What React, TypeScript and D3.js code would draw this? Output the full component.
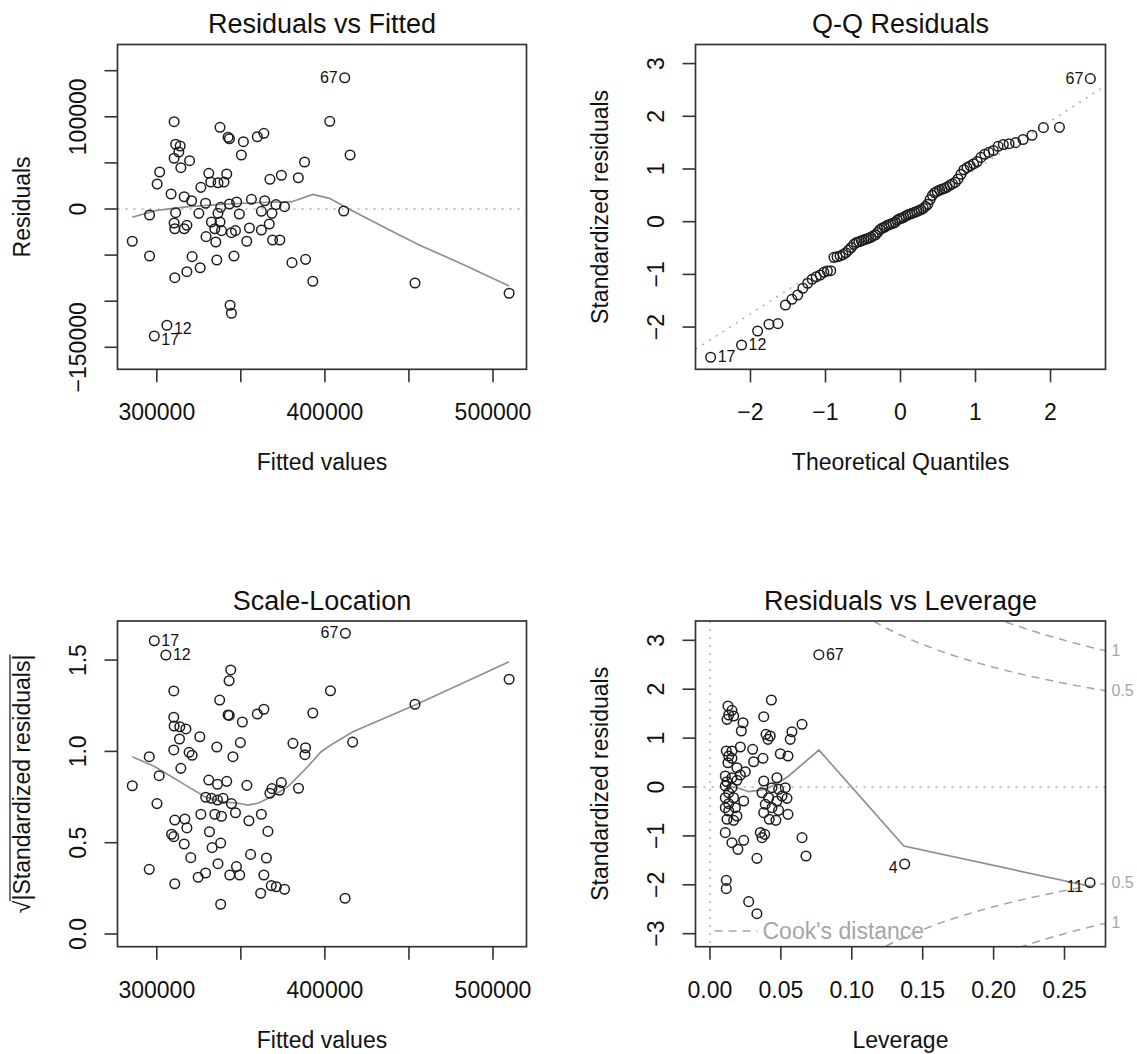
import React, { useEffect } from 'react';
import * as d3 from 'd3';

// ---- Residuals vs Fitted ----
const rvfFitted = [
  285400, 295700, 295700, 301700, 300200, 310300, 311200, 313900, 313100, 310300,
  319500, 314300, 308500, 316300, 320700, 311200, 310300, 310700, 317900, 316300,
  321000, 325800, 317900, 310700, 325000, 329000, 326200, 330900, 332100, 336400,
  340000, 341600, 337600, 342400, 343200, 351500, 350300, 359800, 363700, 367300,
  374100, 338000, 343200, 347500, 356300, 364200, 370900, 376000, 336400, 332500,
  337600, 334500, 338500, 329300, 335100, 344400, 346800, 349100, 355100, 362200,
  362200, 366900, 368500, 368900, 373200, 353500, 335700, 345900, 380400, 343600,
  344400, 306000, 298500, 411800, 402900, 415000, 387900, 384200, 411200, 388500,
  392800, 453600, 509600,
];
const rvfResid = [
  -35000, -6500, -51000, 40100, 27100, 94700, 70200, 68300, 61800, 55000,
  52400, 44800, 16300, 13300, 9000, -4000, -15200, -21400, -17700, -21400,
  -51700, -63700, -68000, -74500, -4700, 6200, 23500, 38700, 29300, 28500,
  29300, 38000, 88600, 77800, 76200, 73000, 58600, 78400, 82100, 32200,
  36600, 1800, 5400, 7600, 10500, 9000, 4700, 2500, -4700, -14100,
  -14100, -21400, -23500, -30000, -35800, -25700, -23500, -5400, -20600, -2500,
  -22800, -16300, -4700, -33600, -33600, -35000, -55300, -51000, -58200, -104400,
  -113100, -126100, -137700, 142400, 95100, 58600, 51000, 33900, -2200, -54600,
  -78400, -80300, -91400,
];
const rvfSmooth = [
  [285400, -9000], [298900, -1800], [318600, 2500], [338500, 5100], [358200, 6800],
  [380400, 7900], [392800, 15900], [402700, 11600], [416600, -2200], [436400, -20900],
  [456100, -39000], [482900, -60700], [509600, -83500],
];
const rvfIds = [
  { i: 73, label: '67', side: 'left' },
  { i: 71, label: '12', side: 'right' },
  { i: 72, label: '17', side: 'right' },
];

// ---- Q-Q Residuals (sorted standardized residuals) ----
const qqSorted = [
  -2.573, -2.34, -2.074, -1.947, -1.935, -1.581, -1.473, -1.391, -1.264, -1.169,
  -1.093, -1.044, -1.011, -0.96, -0.935, -0.93, -0.677, -0.665, -0.65, -0.625,
  -0.59, -0.54, -0.49, -0.43, -0.395, -0.38, -0.362, -0.345, -0.33, -0.315,
  -0.295, -0.27, -0.25, -0.2, -0.15, -0.122, -0.105, -0.08, -0.06, -0.045,
  -0.03, -0.01, 0.03, 0.055, 0.065, 0.085, 0.11, 0.13, 0.146, 0.16,
  0.178, 0.19, 0.21, 0.23, 0.253, 0.29, 0.33, 0.42, 0.5, 0.55,
  0.575, 0.598, 0.615, 0.635, 0.655, 0.69, 0.718, 0.745, 0.81, 0.9,
  0.985, 1.025, 1.06, 1.1, 1.14, 1.22, 1.28, 1.315, 1.35, 1.43,
  1.465, 1.48, 1.5, 1.56, 1.64, 1.784, 1.79, 2.714,
];
const qqLine = [[-2.733, -2.42], [2.733, 2.58]];
const qqIds = [
  { i: 0, label: '17', side: 'right' },
  { i: 1, label: '12', side: 'right' },
  { i: 87, label: '67', side: 'left' },
];

// ---- Scale-Location ----
const slFitted = [
  298500, 305400, 344000, 343000, 310100, 337400, 342400, 343100, 350900, 359800,
  363700, 392800, 403300, 310100, 310300, 313700, 317300, 313500, 325600, 335700,
  349700, 345300, 310100, 319200, 321000, 295500, 314300, 301400, 285400, 330900,
  336100, 341600, 353600, 300100, 329100, 332500, 336100, 339400, 344400, 346800,
  326200, 334500, 338500, 354800, 362200, 366100, 368500, 367300, 372900, 374100,
  384300, 381000, 388500, 388100, 310700, 316700, 317900, 308800, 310100, 316300,
  331300, 338000, 332900, 320200, 336400, 347400, 343400, 349300, 355800, 365200,
  295500, 310700, 324600, 329000, 363700, 368100, 371100, 376000, 361800, 338000,
  412200, 416500, 453600, 509600, 412000,
];
const slSqrtStd = [
  1.606, 1.528, 1.446, 1.387, 1.331, 1.281, 1.199, 1.197, 1.161, 1.205,
  1.231, 1.21, 1.332, 1.187, 1.139, 1.135, 1.123, 1.068, 1.08, 1.024,
  1.048, 0.971, 1.008, 0.995, 0.979, 0.971, 0.907, 0.867, 0.812, 0.843,
  0.82, 0.836, 0.814, 0.714, 0.749, 0.743, 0.734, 0.743, 0.714, 0.664,
  0.656, 0.656, 0.645, 0.62, 0.656, 0.562, 0.796, 0.771, 0.787, 0.829,
  0.798, 1.044, 1.02, 0.982, 0.624, 0.63, 0.581, 0.546, 0.533, 0.493,
  0.56, 0.498, 0.473, 0.418, 0.385, 0.369, 0.323, 0.323, 0.436, 0.416,
  0.354, 0.275, 0.311, 0.334, 0.323, 0.265, 0.259, 0.245, 0.223, 0.163,
  1.647, 1.051, 1.258, 1.395, 0.196,
];
const slSmooth = [
  [285400, 0.971], [298900, 0.916], [308800, 0.861], [318600, 0.807], [328500, 0.752],
  [338500, 0.725], [348300, 0.716], [354200, 0.706], [360200, 0.716], [368100, 0.752],
  [378000, 0.807], [387900, 0.898], [397800, 0.998], [404500, 1.041], [416700, 1.108],
  [455000, 1.26], [509600, 1.491],
];
const slIds = [
  { i: 0, label: '17', side: 'right' },
  { i: 1, label: '12', side: 'right' },
  { i: 80, label: '67', side: 'left' },
];

// ---- Residuals vs Leverage ----
const levHat = [
  0.0127, 0.0155, 0.0132, 0.012, 0.0167, 0.0433, 0.0379, 0.0233, 0.0221, 0.0395,
  0.0425, 0.0409, 0.0649, 0.0578, 0.0566, 0.0214, 0.0301, 0.0374, 0.0308, 0.0496,
  0.055, 0.0115, 0.0155, 0.0132, 0.0155, 0.0127, 0.019, 0.0249, 0.0214, 0.0108,
  0.0155, 0.019, 0.012, 0.0108, 0.0155, 0.0132, 0.0108, 0.0167, 0.0238, 0.0132,
  0.0108, 0.0179, 0.0132, 0.019, 0.012, 0.0167, 0.0108, 0.0155, 0.0197, 0.0238,
  0.0331, 0.0379, 0.0472, 0.0484, 0.0531, 0.0367, 0.0437, 0.0414, 0.0472, 0.0508,
  0.0543, 0.039, 0.0437, 0.0484, 0.0379, 0.055, 0.0418, 0.0465, 0.0355, 0.0386,
  0.0367, 0.0649, 0.0677, 0.0115, 0.0115, 0.0273, 0.0331, 0.0768, 0.1373, 0.268,
];
const levStd = [
  1.656, 1.568, 1.472, 1.384, 1.452, 1.779, 1.438, 1.315, 1.145, 1.077,
  1.043, 0.975, 1.282, 1.131, 0.975, 0.818, 0.771, 0.587, 0.517, 0.681,
  0.634, 0.736, 0.736, 0.634, 0.587, 0.497, 0.395, 0.313, 0.245, 0.225,
  0.19, 0.137, 0.108, 0.02, -0.014, -0.117, -0.219, -0.219, -0.286, -0.341,
  -0.423, -0.423, -0.491, -0.593, -0.661, -0.682, -0.934, -1.139, -1.275, -1.091,
  -1.459, 0.123, 0.19, -0.048, -0.014, -0.117, -0.014, -0.219, -0.286, -0.184,
  -0.232, -0.354, -0.423, -0.477, -0.525, -0.559, -0.661, -0.682, -0.934, -0.968,
  -1.036, -1.036, -1.411, -1.909, -2.079, -2.345, -2.591, 2.706, -1.575, -1.957,
];
const levSmooth = [
  [0.0108, 0.02], [0.019, -0.014], [0.0273, -0.096], [0.039, -0.048], [0.0484, 0.088],
  [0.0555, 0.225], [0.0768, 0.757], [0.1367, -1.207], [0.268, -2.03],
];
const levIds = [
  { i: 77, label: '67', side: 'right' },
  { i: 78, label: '4', side: 'left' },
  { i: 79, label: '11', side: 'left' },
];
const cookLevels = [0.5, 1];
const nParams = 3;

// inverse normal CDF (Acklam), used for the theoretical quantiles
function qnorm(p: number): number {
  const a = [-39.69683028665376, 220.9460984245205, -275.9285104469687, 138.357751867269, -30.66479806614716, 2.506628277459239];
  const b = [-54.47609879822406, 161.5858368580409, -155.6989798598866, 66.80131188771972, -13.28068155288572];
  const c = [-0.007784894002430293, -0.3223964580411365, -2.400758277161838, -2.549732539343734, 4.374664141464968, 2.938163982698783];
  const d = [0.007784695709041462, 0.3224671290700398, 2.445134137142996, 3.754408661907416];
  const lo = 0.02425;
  if (p < lo) {
    const q = Math.sqrt(-2 * Math.log(p));
    return (((((c[0] * q + c[1]) * q + c[2]) * q + c[3]) * q + c[4]) * q + c[5]) / ((((d[0] * q + d[1]) * q + d[2]) * q + d[3]) * q + 1);
  }
  if (p > 1 - lo) return -qnorm(1 - p);
  const q = p - 0.5;
  const r = q * q;
  return (((((a[0] * r + a[1]) * r + a[2]) * r + a[3]) * r + a[4]) * r + a[5]) * q / (((((b[0] * r + b[1]) * r + b[2]) * r + b[3]) * r + b[4]) * r + 1);
}

const FONT = '"Liberation Sans", Arimo, Arial, Helvetica, sans-serif';
const INK = '#1e1e1e';
const SMOOTH = '#8f8f8f';
const REF = '#b0b0b0';
const FS = 23;

const TL = { left: 117.5, top: 44.5, width: 409, height: 324.8 };
const TR = { left: 695.5, top: 44.5, width: 410, height: 324.8 };
const BL = { left: 117.5, top: 621, width: 409, height: 325.7 };
const BR = { left: 695.5, top: 621, width: 410, height: 325.7 };

const fmtInt = d3.format('d');

function Axes({ box, x, y, xTicks, xLabeled, xFmt, yTicks, yLabeled, yFmt, title, xTitle, yTitle }: any) {
  const bottom = box.top + box.height;
  const cx = box.left + box.width / 2;
  const cy = box.top + box.height / 2;
  return (
    <g>
      <rect x={box.left} y={box.top} width={box.width} height={box.height} fill="none" stroke="#333" strokeWidth={1.7} />
      {xTicks.map((t: number) => (
        <line key={'xt' + t} x1={x(t)} x2={x(t)} y1={bottom} y2={bottom + 13} stroke="#333" strokeWidth={1.6} />
      ))}
      {xLabeled.map((t: number) => (
        <text key={'xl' + t} x={x(t)} y={bottom + 51} textAnchor="middle" fontSize={FS} fill="#111">{xFmt(t)}</text>
      ))}
      {yTicks.map((t: number) => (
        <line key={'yt' + t} x1={box.left - 13} x2={box.left} y1={y(t)} y2={y(t)} stroke="#333" strokeWidth={1.6} />
      ))}
      {yLabeled.map((t: number) => (
        <text key={'yl' + t} transform={`translate(${box.left - 32},${y(t)}) rotate(-90)`} textAnchor="middle" fontSize={FS} fill="#111">{yFmt(t)}</text>
      ))}
      <text x={cx} y={box.top - 11.5} textAnchor="middle" fontSize={27} fill="#111">{title}</text>
      <text x={cx} y={bottom + 101} textAnchor="middle" fontSize={FS} fill="#111">{xTitle}</text>
      {typeof yTitle === 'string' ? (
        <text transform={`translate(${box.left - 87.5},${cy}) rotate(-90)`} textAnchor="middle" fontSize={FS} fill="#111">{yTitle}</text>
      ) : (
        <g transform={`translate(${box.left - 87.5},${cy}) rotate(-90)`}>{yTitle}</g>
      )}
    </g>
  );
}

function Points({ xs, ys, x, y }: any) {
  return (
    <g>
      {xs.map((v: number, i: number) => (
        <circle key={i} cx={x(v)} cy={y(ys[i])} r={4.8} fill="none" stroke={INK} strokeWidth={1.5} />
      ))}
    </g>
  );
}

function IdLabels({ ids, xs, ys, x, y, shiftNeg }: any) {
  return (
    <g>
      {ids.map((d: any) => {
        const px = x(xs[d.i]);
        const py = y(ys[d.i]);
        const dy = shiftNeg && ys[d.i] < 0 ? 9 : 5;
        return (
          <text key={d.label} x={d.side === 'left' ? px - 7 : px + 7} y={py + dy}
            textAnchor={d.side === 'left' ? 'end' : 'start'} fontSize={16} fill="#111">{d.label}</text>
        );
      })}
    </g>
  );
}

export default function App() {
  useEffect(() => {
    document.body.style.margin = '0';
  }, []);

  // Residuals vs Fitted
  const x1 = d3.scaleLinear().domain([276617, 519941]).range([TL.left, TL.left + TL.width]);
  const y1 = d3.scaleLinear().domain([-173861, 178416]).range([TL.top + TL.height, TL.top]);
  // Q-Q
  const x2 = d3.scaleLinear().domain([-2.733, 2.733]).range([TR.left, TR.left + TR.width]);
  const y2 = d3.scaleLinear().domain([-2.801, 3.362]).range([TR.top + TR.height, TR.top]);
  // Scale-Location
  const x3 = d3.scaleLinear().domain([276617, 519941]).range([BL.left, BL.left + BL.width]);
  const y3 = d3.scaleLinear().domain([-0.0695, 1.714]).range([BL.top + BL.height, BL.top]);
  // Residuals vs Leverage
  const x4 = d3.scaleLinear().domain([-0.0102, 0.2789]).range([BR.left, BR.left + BR.width]);
  const y4 = d3.scaleLinear().domain([-3.266, 3.395]).range([BR.top + BR.height, BR.top]);

  const n = qqSorted.length;
  const qqTheo = qqSorted.map((_, i) => qnorm((i + 0.5) / n));

  const line1 = d3.line<number[]>().x(d => x1(d[0])).y(d => y1(d[1]));
  const line2 = d3.line<number[]>().x(d => x2(d[0])).y(d => y2(d[1]));
  const line3 = d3.line<number[]>().x(d => x3(d[0])).y(d => y3(d[1]));
  const line4 = d3.line<number[]>().x(d => x4(d[0])).y(d => y4(d[1]));

  // Cook's distance contours
  const hMax = x4.domain()[1];
  const hh = d3.range(101).map(i => 0.004 + (i * (hMax - 0.004)) / 100);
  const cookCurve = (lvl: number, sign: number) =>
    hh.map(h => [h, sign * Math.sqrt((lvl * nParams * (1 - h)) / h)]);

  const slTitleW = FS * 11.24;

  return (
    <svg width={1137} height={1054} style={{ position: 'absolute', left: 0, top: 0, background: '#fff' }} fontFamily={FONT}>
      <defs>
        {[['c1', TL], ['c2', TR], ['c3', BL], ['c4', BR]].map(([id, b]: any) => (
          <clipPath id={id} key={id}>
            <rect x={b.left} y={b.top} width={b.width} height={b.height} />
          </clipPath>
        ))}
      </defs>
      <rect x={0} y={0} width={1137} height={1054} fill="#fff" />

      {/* Residuals vs Fitted */}
      <g>
        <line x1={TL.left} x2={TL.left + TL.width} y1={y1(0)} y2={y1(0)} stroke={REF} strokeWidth={1.5} strokeDasharray="2 6" />
        <path d={line1(rvfSmooth) || ''} fill="none" stroke={SMOOTH} strokeWidth={1.7} clipPath="url(#c1)" />
        <Points xs={rvfFitted} ys={rvfResid} x={x1} y={y1} />
        <IdLabels ids={rvfIds} xs={rvfFitted} ys={rvfResid} x={x1} y={y1} shiftNeg />
        <Axes box={TL} x={x1} y={y1}
          xTicks={[300000, 350000, 400000, 450000, 500000]} xLabeled={[300000, 400000, 500000]} xFmt={fmtInt}
          yTicks={[-150000, -100000, -50000, 0, 50000, 100000, 150000]} yLabeled={[-150000, 0, 100000]} yFmt={fmtInt}
          title="Residuals vs Fitted" xTitle="Fitted values" yTitle="Residuals" />
      </g>

      {/* Q-Q Residuals */}
      <g>
        <path d={line2(qqLine) || ''} fill="none" stroke={REF} strokeWidth={1.5} strokeDasharray="2 6" clipPath="url(#c2)" />
        <Points xs={qqTheo} ys={qqSorted} x={x2} y={y2} />
        <IdLabels ids={qqIds} xs={qqTheo} ys={qqSorted} x={x2} y={y2} shiftNeg={false} />
        <Axes box={TR} x={x2} y={y2}
          xTicks={[-2, -1, 0, 1, 2]} xLabeled={[-2, -1, 0, 1, 2]} xFmt={fmtInt}
          yTicks={[-2, -1, 0, 1, 2, 3]} yLabeled={[-2, -1, 0, 1, 2, 3]} yFmt={fmtInt}
          title="Q-Q Residuals" xTitle="Theoretical Quantiles" yTitle="Standardized residuals" />
      </g>

      {/* Scale-Location */}
      <g>
        <path d={line3(slSmooth) || ''} fill="none" stroke={SMOOTH} strokeWidth={1.7} clipPath="url(#c3)" />
        <Points xs={slFitted} ys={slSqrtStd} x={x3} y={y3} />
        <IdLabels ids={slIds} xs={slFitted} ys={slSqrtStd} x={x3} y={y3} shiftNeg={false} />
        <Axes box={BL} x={x3} y={y3}
          xTicks={[300000, 350000, 400000, 450000, 500000]} xLabeled={[300000, 400000, 500000]} xFmt={fmtInt}
          yTicks={[0, 0.5, 1, 1.5]} yLabeled={[0, 0.5, 1, 1.5]} yFmt={d3.format('.1f')}
          title="Scale-Location" xTitle="Fitted values"
          yTitle={
            <g>
              <text x={0} y={0} textAnchor="middle" fontSize={FS} fill="#111">√|Standardized residuals|</text>
              <line x1={-slTitleW / 2 + 12} x2={slTitleW / 2} y1={-20} y2={-20} stroke="#111" strokeWidth={1.2} />
            </g>
          } />
      </g>

      {/* Residuals vs Leverage */}
      <g>
        <line x1={BR.left} x2={BR.left + BR.width} y1={y4(0)} y2={y4(0)} stroke={REF} strokeWidth={1.5} strokeDasharray="2 6" />
        <line x1={x4(0)} x2={x4(0)} y1={BR.top} y2={BR.top + BR.height} stroke={REF} strokeWidth={1.5} strokeDasharray="2 6" />
        <g clipPath="url(#c4)">
          {cookLevels.map(lvl => [1, -1].map(sg => (
            <path key={lvl + '_' + sg} d={line4(cookCurve(lvl, sg)) || ''} fill="none" stroke="#a6a6a6" strokeWidth={1.5} strokeDasharray="8 6" />
          )))}
        </g>
        <path d={line4(levSmooth) || ''} fill="none" stroke={SMOOTH} strokeWidth={1.7} clipPath="url(#c4)" />
        <Points xs={levHat} ys={levStd} x={x4} y={y4} />
        <IdLabels ids={levIds} xs={levHat} ys={levStd} x={x4} y={y4} shiftNeg />
        {cookLevels.map(lvl => [1, -1].map(sg => (
          <text key={'cl' + lvl + sg} x={BR.left + BR.width + 6}
            y={y4(sg * Math.sqrt((lvl * nParams * (1 - hMax)) / hMax)) + 5}
            fontSize={16} fill="#a6a6a6">{String(lvl)}</text>
        )))}
        <line x1={BR.left + 19} x2={BR.left + 62} y1={931} y2={931} stroke="#a6a6a6" strokeWidth={1.5} strokeDasharray="8 6" />
        <text x={BR.left + 67} y={939} fontSize={FS} fill="#a6a6a6">Cook's distance</text>
        <Axes box={BR} x={x4} y={y4}
          xTicks={[0, 0.05, 0.1, 0.15, 0.2, 0.25]} xLabeled={[0, 0.05, 0.1, 0.15, 0.2, 0.25]} xFmt={d3.format('.2f')}
          yTicks={[-3, -2, -1, 0, 1, 2, 3]} yLabeled={[-3, -2, -1, 0, 1, 2, 3]} yFmt={fmtInt}
          title="Residuals vs Leverage" xTitle="Leverage" yTitle="Standardized residuals" />
      </g>
    </svg>
  );
}
